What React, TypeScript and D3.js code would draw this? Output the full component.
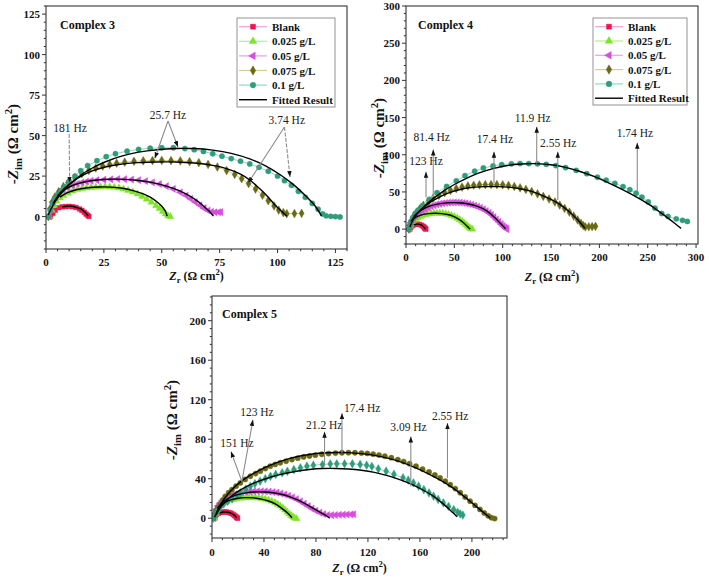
import React from "react";
import * as d3 from "d3";

type P = [number, number];

const FONT = "'Liberation Serif', 'Times New Roman', serif";

// legend names and per-series colours
const seriesNames = ["Blank", "0.025 g/L", "0.05 g/L", "0.075 g/L", "0.1 g/L"];
const markerFill = ["#e8174f", "#7fe32a", "#d64fdc", "#6b6a14", "#2f9c7c"];
const lineColor = ["#f29ae6", "#b4f08a", "#e8a0ec", "#cfcf9a", "#8edcbc"];
const legendShapes = ["square", "triangle", "left", "diamond", "circle"];

// ---- Complex 3 ----
const c3Blank: P[] = [[2,0],[3,2],[4,4],[5.5,5.5],[7,6],[8.5,6.2],[10,6.3],[11.5,6.1],[13,5.6],[14.5,4.7],[15.5,3.8],[16.5,2.7],[17.3,1.6],[18,0.8],[18.5,0.1]];
const c3Low: P[] = [[1.5,0],[2.5,4],[3.5,7],[4.5,9.5],[6,11.5],[7.5,13],[9.5,14.5],[11.5,15.8],[13.5,16.7],[15.5,17.3],[17.5,17.7],[19.5,18],[21.5,18.2],[23.5,18.3],[25.5,18.4],[27.5,18.3],[29.5,18.1],[31.5,17.7],[33.5,17],[35.5,16.2],[37.5,15.2],[39.5,14],[41.5,12.5],[43.5,10.8],[45.5,8.9],[47.5,6.8],[49,5],[50.5,3.2],[51.7,1.6],[52.7,0.5],[53.7,0]];
const c3Mid: P[] = [[1.5,0],[2.2,5],[3,9],[4.3,12],[5.8,14.5],[7.5,16.5],[9.5,18],[11.5,19.3],[13.5,20.3],[15.5,21],[17.5,21.6],[19.5,22.1],[22,22.5],[25,22.8],[28,23],[31,23.2],[34,23.1],[37,22.9],[40,22.5],[43,21.9],[46,21.1],[49,20.1],[52,18.8],[55,17.1],[58,15],[60.5,13],[62.5,11],[64.5,9],[66.5,7],[68.3,5.2],[70,3.8],[71.5,3],[73,2.7],[74.5,2.7],[75.5,2.8]];
const c3High: P[] = [[1,0],[1.8,5],[2.7,9],[3.8,12],[5.5,15.5],[7.5,18.5],[9.5,21],[12.5,24],[15.5,26.5],[18.5,28.5],[21.5,30],[24.5,31.2],[27.5,32.2],[30.5,33],[34,33.6],[38,34.1],[42,34.4],[46,34.6],[50,34.7],[54,34.6],[58,34.4],[62,34],[66,33.3],[70,32.2],[74,30.6],[78,28.4],[81.5,26],[84.5,23.4],[87.5,20.4],[90.5,17],[93.5,13.2],[96,9.8],[98.5,6.6],[100.5,4],[102.5,2.4],[104,1.8],[107.3,1.9],[110.4,2]];
const c3Top: P[] = [[0.8,0],[1.8,4],[2.8,8],[3.8,11],[5,13.5],[6.5,16],[8,18.5],[10,21.5],[12.5,25],[15,28.3],[18,31.5],[22,34.5],[26,37],[30,38.8],[35,40.4],[40,41.5],[45,42.2],[50,42.5],[55,42.5],[60,42],[64,41.3],[68,40.2],[72,38.8],[76,37.3],[80,35.8],[84,34.2],[88,32.5],[92,30.4],[96,28],[100,25],[103,22.2],[106,19.3],[109,15.6],[112,11.9],[115,8.1],[117.5,4.6],[119.5,1.6],[121,0.5],[123,0.2],[125,0],[127,-0.2]];
const c3Fits: P[][] = [
  [[7,6],[9,6.4],[11,6.4],[13,5.8],[15,4.7],[16.5,3.2],[17.5,1.8],[18.2,0.3]],
  [[6,12],[9,14.6],[13,16.6],[18,17.8],[23,18.3],[28,18.2],[33,17.5],[38,15.9],[42,14],[45,12],[48,9],[50,6.4],[51.5,3.5],[52.3,0.3]],
  [[5,13],[8,16.5],[12,19.5],[17,21.5],[22,22.6],[28,23.1],[34,23],[40,22.3],[46,21],[52,18.8],[57,16.3],[61,13.5],[65,10],[68,6.6],[70.5,3.3],[72.3,0.3]],
  [[3,8],[6,14.5],[10,20],[15,24.8],[20,28.2],[26,30.8],[32,32.3],[40,33.3],[48,33.7],[56,33.7],[64,33.1],[72,31.6],[78,29.6],[84,26.2],[88,22.6],[92,17.6],[96,12],[99,7],[102,3],[104,0.2]],
  [[1,1],[3,7],[6,13.5],[10,19.5],[15,25.5],[20,30],[26,34],[33,37.5],[40,39.8],[48,41.3],[56,42],[64,42],[72,41],[80,39],[88,35.6],[95,31.2],[101,26],[107,19.6],[112,13],[116,7],[119,0.4]],
];

// ---- Complex 4 ----
const c4Blank: P[] = [[4,0],[5,2.5],[6.5,4.5],[8,5.8],[10,6.5],[12,6.7],[14,6.3],[16,5.3],[17.5,4],[18.7,2.7],[19.5,1.5],[20,0.6],[20.5,0]];
const c4Low: P[] = [[3,0],[4,4],[5,6.5],[6.5,9.5],[8,12],[10,14],[12,15.5],[14.5,17],[17,18.3],[20,19.4],[23,20.3],[26,20.9],[29,21.3],[32,21.4],[35,21.4],[38,21.1],[41,20.5],[44,19.6],[47,18.4],[50,16.8],[53,14.8],[55.5,12.8],[58,10.5],[60,8.3],[62,6],[63.8,3.8],[65.5,2],[67,0.7],[68.5,0]];
const c4Mid: P[] = [[3,0],[4,5],[5,8.5],[6.5,12],[8,15],[10,18],[12,20.5],[14.5,23],[17,25],[20,27.2],[23,29.2],[26,30.8],[29,32.1],[32,33.2],[35,34],[38,34.7],[41,35.2],[44,35.6],[47,35.8],[50,35.9],[53,35.8],[56,35.6],[59,35.2],[62,34.6],[65,33.8],[68,32.8],[71,31.6],[74,30.2],[77,28.6],[80,26.7],[83,24.4],[86,21.8],[88.5,19.2],[91,16.2],[93.5,13],[96,9.8],[98.5,6.7],[100.5,4.2],[102.3,2.2],[103.5,0.8],[104.5,0]];
const c4High: P[] = [[3,0],[4,5],[5,9],[7,15],[10,21],[14,27],[18,32],[23,37],[28,41.5],[34,45.5],[40,49],[46,52],[52,54.5],[58,56.5],[64,58],[70,59],[76,59.5],[82,59.8],[88,60],[94,59.8],[100,59.5],[106,58.7],[112,57.3],[118,55.5],[124,53.3],[130,50.5],[136,47.5],[142,44],[148,40.5],[154,36.5],[159,32.3],[164,27.8],[169,22.8],[173.5,17.5],[177.5,12.3],[181,7.8],[183.5,4.6],[185.5,3],[189,3.2],[192.5,3.5],[196,3.7]];
const c4Top: P[] = [[3,0],[4,5],[5,9.5],[7,15.5],[9.5,21],[12.5,25.5],[17,31.5],[24,40],[32,49],[42,57.3],[52,65],[61,71.8],[71,77.8],[80,82.2],[90,85],[99,86.7],[109,87.8],[118,88.2],[127,88.1],[136,87.8],[145,87.1],[155,85.4],[165,82.8],[176,79],[187,74.6],[198,69.8],[207,65.8],[216,61.5],[224.5,57.2],[231.5,53],[238,48.3],[244,43],[250.5,36.5],[257.5,28.2],[264.5,21],[271,17],[279.5,13.8],[286,11.8],[291,10.3]];
const c4Fits: P[][] = [
  [[8,5.8],[11,6.7],[14,6.4],[16.5,5],[18.3,3],[19.5,1],[20,0]],
  [[8,14],[12,17],[17,19.5],[23,20.8],[30,21.3],[37,20.9],[43,19.6],[49,17.2],[54,13.8],[58,10.2],[62,5.6],[65,1.6],[66.5,0]],
  [[8,17],[13,23],[19,27.8],[26,31.5],[34,34],[42,35.3],[50,35.6],[58,35.1],[66,33.4],[74,30.5],[81,26.6],[87,21.2],[92,15.2],[96,10],[100,4.5],[103,0.5]],
  [[5,10],[10,19],[17,28],[25,36],[35,43.5],[45,49],[55,53],[65,55.6],[75,56.8],[85,57.2],[95,57.1],[105,56.5],[115,55],[125,52.5],[135,48.5],[145,43],[155,36.5],[163,29.5],[170,22],[176,14.5],[181,7.5],[185,1]],
  [[4,3],[8,14],[13,23],[20,32],[28,41],[38,50.5],[50,60],[62,68],[75,75.3],[90,81.3],[105,85.6],[120,87.6],[135,88],[150,86.5],[165,83],[180,77.5],[195,70.5],[210,62],[225,52.5],[240,42],[252,32.5],[263,22.5],[273,12.8],[280,5.5],[284.5,1]],
];

// ---- Complex 5 ----
const c5Blank: P[] = [[1.5,0],[2.5,2],[3.5,3.8],[5,5],[6.5,5.8],[8,6.2],[9.5,6.4],[11,6.3],[12.5,6],[14,5.4],[15.3,4.6],[16.5,3.6],[17.6,2.5],[18.5,1.4],[19.2,0.5],[19.7,0]];
const c5Low: P[] = [[2,0],[2.8,4.5],[3.8,8],[5,11],[6.5,13.5],[8.5,15.5],[11,17],[13.5,18.2],[16,19.1],[18.5,19.8],[21,20.3],[23.5,20.6],[26,20.8],[28.5,20.9],[31,20.9],[33.5,20.8],[36,20.5],[38.5,20],[41,19.3],[43.5,18.4],[46,17.2],[48.5,15.8],[50.5,14.2],[52.5,12.4],[54.5,10.4],[56.3,8.3],[58,6.2],[59.6,4.3],[61,2.6],[62.4,1.2],[63.7,0.2],[65,-0.5]];
const c5Mid: P[] = [[1.5,0],[2.5,5],[3.5,9],[4.7,12.5],[6.2,15.3],[8,17.8],[10,19.8],[12.5,21.7],[15,23.2],[17.5,24.4],[20,25.3],[23,26.1],[26,26.6],[29,27],[32,27.2],[35,27.3],[38,27.3],[41,27.2],[44,26.9],[47,26.5],[50,25.9],[53,25.1],[56,24.1],[59,22.8],[62,21.2],[65,19.3],[68,17.2],[71,14.8],[74,12.3],[77,9.8],[80,7.6],[83,5.7],[86,4.2],[89,3.3],[92,3.1],[95,3.3],[98,3.5],[101,3.6],[104,3.8],[107,3.9],[109,4]];
const c5High: P[] = [[1,0],[2,4],[3,7.5],[4.5,11],[6.4,14.3],[8.3,18.5],[10.2,22.2],[12.8,25.8],[15.4,29],[18.5,32.5],[21.8,35.8],[25.5,39.3],[29.5,42.5],[33.5,45.2],[37.2,47.7],[41,50.3],[44.8,52.7],[48.6,54.5],[52.5,56.2],[57,57.8],[61.5,59.4],[66,60.8],[70.5,62.1],[75,63],[79.5,63.9],[84.5,64.8],[89.7,65.5],[95,66],[100,66.3],[105,66.4],[110,66.3],[115,66],[119.5,65.6],[124,64.9],[128.5,64],[133,62.8],[138,61.3],[143,59.4],[147.5,57.4],[152,55.2],[157,52.7],[162,49.8],[167,46.9],[171.5,43.8],[175.5,40.8],[179.5,37.5],[183.3,34],[187.2,30],[191,25.8],[194.8,21.5],[198.6,17.2],[202.4,13],[206.2,8.9],[209.5,5.3],[212.5,2.5],[215,0.6],[217.5,-0.3]];
const c5Top: P[] = [[1,0],[2,3],[3,5.5],[4.5,8.5],[6.5,11.5],[9,14.5],[12,17],[15.5,19.5],[19,23],[22,25.7],[26,29.5],[29.5,32.4],[33,35],[37,37.5],[41,40],[45,42.5],[49,44.3],[54,46],[58,47.5],[63,49.3],[68,51],[73,52.7],[78,53.7],[85,54.4],[91,55],[96,55.1],[102,55.1],[108,55.1],[114,54.5],[119,53.7],[123,52.5],[128,50],[134,47.6],[140,44.5],[147,41],[151,38.5],[155,35.8],[159,32.5],[163,29],[167,25.7],[170.5,22.3],[174,19],[178,15.6],[182,12],[186,8.8],[189,6],[191,4.5],[193,3.2]];
const c5Fits: P[][] = [
  [[6,5.5],[9,6.3],[12,6.1],[14.5,5.1],[16.5,3.6],[18,2],[19,0.3]],
  [[6,12],[10,16],[15,18.8],[20,20.3],[26,20.9],[32,20.6],[38,19.4],[44,17.2],[49,14.2],[53,10.8],[56.5,7.2],[59,4.2],[61.5,0.4]],
  [[4,10],[8,16],[13,20.5],[19,23.7],[26,25.7],[33,26.6],[40,26.6],[47,25.8],[54,24],[60,21.7],[66,18.5],[72,14.5],[78,10],[84,5.5],[88,2.5],[90.5,0.2]],
  [[2,1],[5,10],[9,19],[14,27],[20,34.8],[28,42.3],[36,48.3],[45,53.8],[55,58.6],[65,62.2],[75,64.6],[85,66],[95,66.6],[105,66.4],[115,65.4],[125,63.6],[135,60.8],[145,57],[155,52],[165,46],[175,39],[185,31],[193,23.2],[200,15.6],[206,9],[211,3.6],[214,0.4]],
  [[3,3],[6,10],[10,16.5],[15,22.5],[21,28],[28,33],[36,37.5],[45,41.5],[55,45],[65,47.6],[75,49.4],[85,50.3],[95,50.4],[105,49.9],[115,48.6],[125,46.4],[135,43.1],[145,38.9],[155,33.6],[163,28.1],[170,22.6],[176,16.6],[181,11],[185,6],[188.5,1.5]],
];

// frequency labels: text centre and arrow (from -> to, head at "to"), in data units
type Note = { text: string; at: P; arrows: { from: P; to: P; dashed?: boolean }[] };
const c3Notes: Note[] = [
  { text: "181 Hz", at: [10.4, 55], arrows: [{ from: [10, 51], to: [10.2, 21], dashed: true }] },
  { text: "25.7 Hz", at: [52.7, 62.7], arrows: [{ from: [52.7, 59], to: [47, 36] }, { from: [52.7, 59], to: [57, 43] }] },
  { text: "3.74 Hz", at: [104, 59.6], arrows: [{ from: [103, 55.3], to: [87.3, 20.7] }, { from: [103, 55.3], to: [105.4, 24.4], dashed: true }] },
];
const c4Notes: Note[] = [
  { text: "123 Hz", at: [20.7, 91.5], arrows: [{ from: [20.7, 43], to: [20.7, 77] }] },
  { text: "81.4 Hz", at: [26.6, 124], arrows: [{ from: [28.2, 43.5], to: [28.2, 107] }] },
  { text: "17.4 Hz", at: [92, 120.7], arrows: [{ from: [91, 61.5], to: [91, 104] }] },
  { text: "11.9 Hz", at: [131, 150], arrows: [{ from: [135.2, 88.4], to: [135.2, 137.6] }] },
  { text: "2.55 Hz", at: [157.5, 116], arrows: [{ from: [157, 39], to: [157, 104] }] },
  { text: "1.74 Hz", at: [236.8, 128.8], arrows: [{ from: [239.2, 50.3], to: [239.2, 116] }] },
];
const c5Notes: Note[] = [
  { text: "151 Hz", at: [19.2, 76], arrows: [{ from: [23, 37.2], to: [14.6, 67.5] }] },
  { text: "123 Hz", at: [34.6, 108], arrows: [{ from: [23, 37.2], to: [31.5, 99.6] }] },
  { text: "21.2 Hz", at: [86.4, 94.5], arrows: [{ from: [86.6, 52.4], to: [86.6, 87.5] }] },
  { text: "17.4 Hz", at: [115.6, 111.7], arrows: [{ from: [100, 66], to: [100, 106.4] }] },
  { text: "3.09 Hz", at: [151.2, 92.2], arrows: [{ from: [153, 32.2], to: [153, 82.7] }] },
  { text: "2.55 Hz", at: [183.3, 103.6], arrows: [{ from: [181.2, 40.6], to: [181.2, 96.3] }] },
];

const panels = [
  {
    id: "c3", title: "Complex 3", box: { l: 46, t: 6, r: 347, b: 249 },
    xDomain: [0, 130], yDomain: [-20, 130],
    xTicks: [0, 25, 50, 75, 100, 125], yTicks: [0, 25, 50, 75, 100, 125], minor: 5,
    series: [c3Blank, c3Low, c3Mid, c3High, c3Top], fits: c3Fits, notes: c3Notes,
    shapes: legendShapes, colors: [0, 1, 2, 3, 4],
    legend: { x: 237, y: 18, w: 98, h: 89, step: 14.6 },
    titlePos: [60, 29], yTitle: [18, 144], xTitleY: 280, tickDy: 17,
  },
  {
    id: "c4", title: "Complex 4", box: { l: 406, t: 6, r: 698, b: 244 },
    xDomain: [0, 302], yDomain: [-20, 300],
    xTicks: [0, 50, 100, 150, 200, 250, 300], yTicks: [0, 50, 100, 150, 200, 250, 300], minor: 10,
    series: [c4Blank, c4Low, c4Mid, c4High, c4Top], fits: c4Fits, notes: c4Notes,
    shapes: legendShapes, colors: [0, 1, 2, 3, 4],
    legend: { x: 593, y: 18, w: 94, h: 87, step: 14.3 },
    titlePos: [418, 29], yTitle: [384, 138], xTitleY: 281, tickDy: 16.5,
  },
  {
    id: "c5", title: "Complex 5", box: { l: 212, t: 296, r: 507, b: 538 },
    xDomain: [0, 227], yDomain: [-20, 225],
    xTicks: [0, 40, 80, 120, 160, 200], yTicks: [0, 40, 80, 120, 160, 200], minor: 8,
    series: [c5Blank, c5Low, c5Mid, c5High, c5Top], fits: c5Fits, notes: c5Notes,
    shapes: ["square", "triangle", "left", "circle", "diamond"], colors: [0, 1, 2, 3, 4],
    legend: null,
    titlePos: [222, 318], yTitle: [177, 420], xTitleY: 572, tickDy: 18,
  },
];

function symbolD(shape: string, size: number) {
  const t =
    shape === "square" ? d3.symbolSquare :
    shape === "circle" ? d3.symbolCircle :
    shape === "diamond" ? d3.symbolDiamond : d3.symbolTriangle;
  return d3.symbol().type(t).size(size)() as string;
}

function Marker({ shape, x, y, fill, size = 22 }: { shape: string; x: number; y: number; fill: string; size?: number }) {
  const rot = shape === "left" ? " rotate(-90)" : "";
  return <path d={symbolD(shape, size)} transform={`translate(${x},${y})${rot}`} fill={fill} stroke={fill} strokeWidth={0.4} />;
}

function AxisTitle({ x, y, sub, size, rotate }: { x: number; y: number; sub: string; size: number; rotate?: boolean }) {
  return (
    <text transform={`translate(${x},${y})${rotate ? " rotate(-90)" : ""}`} textAnchor="middle"
      fontFamily={FONT} fontWeight="bold" fontSize={size} fill="#111">
      {rotate ? "-" : ""}
      <tspan fontStyle="italic">Z</tspan>
      <tspan fontSize={size * 0.72} dy={size * 0.28}>{sub}</tspan>
      <tspan dy={-size * 0.28}> (Ω cm</tspan>
      <tspan fontSize={size * 0.72} dy={-size * 0.42}>2</tspan>
      <tspan dy={size * 0.42}>)</tspan>
    </text>
  );
}

function Panel({ p }: { p: (typeof panels)[number] }) {
  const { box } = p;
  const x = d3.scaleLinear().domain(p.xDomain).range([box.l, box.r]);
  const y = d3.scaleLinear().domain(p.yDomain).range([box.b, box.t]);
  const line = d3.line<P>().x((d) => x(d[0])).y((d) => y(d[1]));
  const fitLine = d3.line<P>().x((d) => x(d[0])).y((d) => y(d[1])).curve(d3.curveCatmullRom);
  const xMinor = d3.range(p.xDomain[0], p.xDomain[1] + 0.001, p.minor).filter((v) => !p.xTicks.includes(v));
  const yStart = Math.ceil(p.yDomain[0] / p.minor) * p.minor;
  const yMinor = d3.range(yStart, p.yDomain[1] + 0.001, p.minor).filter((v) => !p.yTicks.includes(v));
  const axisColor = "#333";

  return (
    <g>
      <defs>
        <clipPath id={`clip-${p.id}`}>
          <rect x={box.l} y={box.t} width={box.r - box.l} height={box.b - box.t} />
        </clipPath>
      </defs>

      {/* ticks */}
      {p.xTicks.map((v) => (
        <g key={`xt${v}`}>
          <line x1={x(v)} x2={x(v)} y1={box.b} y2={box.b + 4} stroke={axisColor} />
          <text x={x(v)} y={box.b + p.tickDy} textAnchor="middle" fontFamily={FONT} fontWeight="bold" fontSize={11} fill="#111">{v}</text>
        </g>
      ))}
      {xMinor.map((v) => <line key={`xm${v}`} x1={x(v)} x2={x(v)} y1={box.b} y2={box.b + 2.2} stroke={axisColor} />)}
      {p.yTicks.map((v) => (
        <g key={`yt${v}`}>
          <line x1={box.l - 4} x2={box.l} y1={y(v)} y2={y(v)} stroke={axisColor} />
          <text x={box.l - 6} y={y(v) + 4} textAnchor="end" fontFamily={FONT} fontWeight="bold" fontSize={11} fill="#111">{v}</text>
        </g>
      ))}
      {yMinor.map((v) => <line key={`ym${v}`} x1={box.l - 2.2} x2={box.l} y1={y(v)} y2={y(v)} stroke={axisColor} />)}

      {/* data */}
      <g clipPath={`url(#clip-${p.id})`}>
        {p.series.map((s, i) => (
          <g key={`s${i}`}>
            <path d={line(s) as string} fill="none" stroke={lineColor[p.colors[i]]} strokeWidth={1} />
            {s.map((d, j) => (
              <Marker key={j} shape={p.shapes[i]} x={x(d[0])} y={y(d[1])} fill={markerFill[p.colors[i]]} />
            ))}
          </g>
        ))}
        {p.fits.map((f, i) => (
          <path key={`f${i}`} d={fitLine(f) as string} fill="none" stroke="#000" strokeWidth={1.4} />
        ))}
      </g>

      {/* frequency annotations */}
      {p.notes.map((n, i) => (
        <g key={`n${i}`}>
          {n.arrows.map((a, j) => (
            <line key={j} x1={x(a.from[0])} y1={y(a.from[1])} x2={x(a.to[0])} y2={y(a.to[1])}
              stroke="#8c8c8c" strokeWidth={1.1} strokeDasharray={a.dashed ? "4,1.5" : undefined}
              markerEnd="url(#arrowHead)" />
          ))}
          <text x={x(n.at[0])} y={y(n.at[1]) + 4} textAnchor="middle" fontFamily={FONT} fontSize={11.5} fill="#222">{n.text}</text>
        </g>
      ))}

      {/* frame */}
      <rect x={box.l} y={box.t} width={box.r - box.l} height={box.b - box.t} fill="none" stroke={axisColor} strokeWidth={1.1} />

      <text x={p.titlePos[0]} y={p.titlePos[1]} fontFamily={FONT} fontWeight="bold" fontSize={12} fill="#111">{p.title}</text>

      {p.legend && (
        <g>
          <rect x={p.legend.x} y={p.legend.y} width={p.legend.w} height={p.legend.h} fill="#fff" stroke="#888" strokeWidth={0.9} />
          {seriesNames.map((name, i) => {
            const ly = p.legend!.y + 8.7 + i * p.legend!.step;
            const lx = p.legend!.x + 2;
            return (
              <g key={name}>
                <line x1={lx} x2={lx + 28} y1={ly} y2={ly} stroke={lineColor[i]} strokeWidth={1.2} />
                <Marker shape={p.shapes[i]} x={lx + 14} y={ly} fill={markerFill[i]} size={26} />
                <text x={lx + 33} y={ly + 4} fontFamily={FONT} fontWeight="bold" fontSize={11} fill="#111">{name}</text>
              </g>
            );
          })}
          {(() => {
            const ly = p.legend!.y + 8.7 + 5 * p.legend!.step;
            const lx = p.legend!.x + 2;
            return (
              <g>
                <line x1={lx} x2={lx + 28} y1={ly} y2={ly} stroke="#000" strokeWidth={1.4} />
                <text x={lx + 33} y={ly + 4} fontFamily={FONT} fontWeight="bold" fontSize={11} fill="#111">Fitted Result</text>
              </g>
            );
          })()}
        </g>
      )}

      <AxisTitle x={p.yTitle[0]} y={p.yTitle[1]} sub="im" size={15} rotate />
      <AxisTitle x={(box.l + box.r) / 2} y={p.xTitleY} sub="r" size={12} />
    </g>
  );
}

export default function App() {
  return (
    <svg width={709} height={580} style={{ position: "absolute", left: 0, top: 0, background: "#fff" }}>
      <defs>
        <marker id="arrowHead" viewBox="0 0 8 6" refX={8} refY={3} markerWidth={6} markerHeight={5}
          markerUnits="userSpaceOnUse" orient="auto">
          <path d="M0,0 L8,3 L0,6 z" fill="#111" />
        </marker>
      </defs>
      <rect width={709} height={580} fill="#fff" />
      {panels.map((p) => <Panel key={p.id} p={p} />)}
    </svg>
  );
}
